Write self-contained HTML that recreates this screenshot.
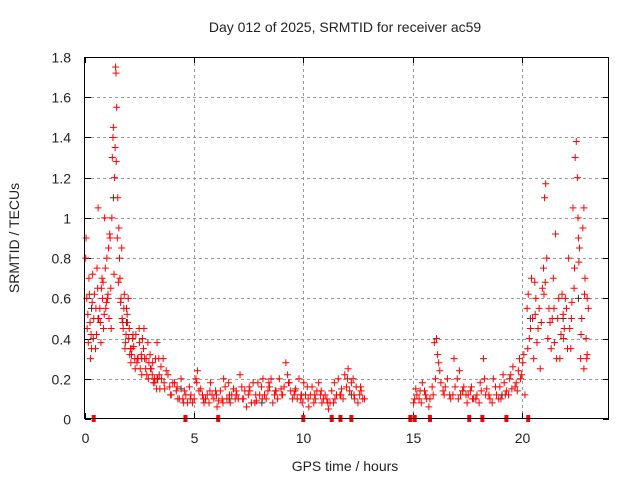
<!DOCTYPE html>
<html><head><meta charset="utf-8"><style>
body{margin:0;background:#fff;}
svg text{font-family:"Liberation Sans",sans-serif;fill:#222;}
</style></head><body>
<svg id="chart" width="640" height="480" viewBox="0 0 640 480" xmlns="http://www.w3.org/2000/svg">
<rect width="640" height="480" fill="#fff"/>
<text x="345" y="32" font-size="14" text-anchor="middle">Day 012 of 2025, SRMTID for receiver ac59</text>
<text x="345" y="471" font-size="14" text-anchor="middle">GPS time / hours</text>
<text transform="translate(19,238) rotate(-90)" font-size="14" text-anchor="middle">SRMTID / TECUs</text>
<g id="grid"></g><g id="ticks"></g><g id="marks"></g>
<rect x="84.5" y="57.5" width="524" height="361" fill="none" stroke="#000" stroke-width="1"/>
</svg>
<script>
const xTicks=[0,5,10,15,20];
const yTicks=[0,0.2,0.4,0.6,0.8,1,1.2,1.4,1.6,1.8];
const yTickLabels=["0","0.2","0.4","0.6","0.8","1","1.2","1.4","1.6","1.8"];
const redTimes=[0.05,0.1,0.15,0.2,0.25,0.3,0.35,0.4,0.5,0.55,0.6,0.7,0.75,0.8,0.85,0.9,0.95,1.0,1.05,1.1,1.15,1.2,1.25,1.3,1.35,1.4,1.42,1.45,1.5,1.55,1.6,1.65,1.7,1.75,1.8,1.85,1.9,1.95,2.0,2.05,2.1,2.15,2.2,2.3,2.4,2.5,2.6,2.7,2.8,2.9,3.0,3.1,3.2,3.3,3.4,
0.08,0.18,0.28,0.38,0.48,0.58,0.68,0.78,0.88,0.98,1.08,1.18,1.28,1.38,1.48,1.58,1.68,1.78,1.88,1.98,2.08,2.18,2.28,2.38,2.48,2.58,2.68,2.78,2.88,2.98,3.08,3.18,3.28,3.38,
0.03,0.13,0.23,0.33,0.43,0.53,0.63,0.73,0.83,0.93,1.03,1.13,1.23,1.33,1.43,1.53,1.63,1.73,1.83,1.93,2.03,2.13,2.23,2.33,2.43,2.53,2.63,2.73,2.83,2.93,3.03,3.13,3.23,3.33,3.43,3.48,
3.5,3.65,3.8,3.95,4.1,4.25,4.4,4.55,4.7,4.85,5.0,5.15,5.3,5.45,5.6,5.75,5.9,6.05,6.2,6.35,6.5,6.65,6.8,6.95,7.1,7.25,7.4,7.55,7.7,7.85,8.0,8.15,8.3,8.45,8.6,8.75,8.9,9.05,9.2,9.35,9.5,9.65,9.8,9.95,10.1,10.25,10.4,10.55,10.7,10.85,11.0,11.15,11.3,11.45,11.6,11.75,11.9,12.05,12.2,12.35,12.5,12.65,12.8,
3.58,3.88,4.18,4.48,4.78,5.08,5.38,5.68,5.98,6.28,6.58,6.88,7.18,7.48,7.78,8.08,8.38,8.68,8.98,9.28,9.58,9.88,10.18,10.48,10.78,11.08,11.38,11.68,11.98,12.28,12.58,
3.72,4.02,4.32,4.62,4.92,5.22,5.52,5.82,6.12,6.42,6.72,7.02,7.32,7.62,7.92,8.22,8.52,8.82,9.12,9.42,9.72,10.02,10.32,10.62,10.92,11.22,11.52,11.82,12.12,12.42,12.72,
3.62,3.92,4.22,4.52,4.82,5.12,5.42,5.72,6.02,6.32,6.62,6.92,7.22,7.52,7.82,8.12,8.42,8.72,9.02,9.32,9.62,9.92,10.22,10.52,10.82,11.12,11.42,11.72,12.02,12.32,12.62,
15.05,15.15,15.3,15.45,15.6,15.75,15.9,16.0,16.1,16.2,16.3,16.45,16.6,16.75,16.9,17.05,17.2,17.35,17.5,17.65,17.8,17.95,18.1,18.25,18.4,18.55,18.7,18.85,19.0,19.15,19.3,19.45,19.6,19.75,19.9,20.0,20.1,
15.1,15.35,15.65,15.95,16.15,16.5,16.85,17.15,17.45,17.75,18.05,18.35,18.65,18.95,19.25,19.55,19.85,20.15,
15.2,15.4,15.55,15.8,16.05,16.25,16.4,16.7,16.95,17.1,17.3,17.55,17.7,17.9,18.15,18.3,18.5,18.8,19.05,19.2,19.4,19.5,19.7,19.8,19.95,20.05,
20.25,20.35,20.45,20.55,20.65,20.75,20.85,20.95,21.05,21.1,21.15,21.25,21.35,21.45,21.55,21.65,21.75,21.85,21.95,22.05,22.15,22.25,22.35,22.45,22.5,22.55,22.65,22.75,22.8,22.85,22.9,22.95,23.0,23.05,
20.3,20.5,20.7,20.9,21.0,21.2,21.4,21.6,21.8,22.0,22.2,22.4,22.6,22.7,22.85,23.0,
20.4,20.6,20.8,21.02,21.3,21.5,21.7,21.9,22.1,22.3,22.42,22.58,22.72,22.88,22.98,20.28,20.62,21.08,21.48,21.92,22.28,22.62];
const redValues=[.9,.45,.38,.62,.3,.35,.72,.5,.55,.75,1.05,.48,.65,.6,.45,1.0,.55,.8,.62,.5,.9,.45,1.3,1.45,1.2,1.75,1.72,1.55,1.1,.95,.7,.6,.5,.45,.62,.38,.55,.48,.4,.32,.28,.35,.42,.25,.3,.38,.22,.45,.3,.2,.25,.28,.18,.38,.22,
.6,.7,.42,.4,.35,.65,.55,.7,.52,.58,.85,.65,1.4,1.35,.9,.8,.85,.55,.42,.6,.35,.4,.3,.28,.45,.32,.35,.25,.38,.32,.22,.2,.15,.3,
.8,.52,.48,.58,.62,.42,.5,.38,.68,.75,.6,.92,1.0,.72,1.28,.68,.58,.48,.35,.52,.45,.32,.36,.42,.3,.25,.4,.3,.22,.28,.25,.18,.3,.2,.15,.26,
.2,.15,.22,.12,.18,.1,.2,.14,.08,.12,.1,.24,.15,.08,.12,.18,.1,.06,.14,.2,.1,.08,.15,.12,.22,.1,.06,.14,.18,.09,.12,.2,.1,.16,.08,.14,.2,.12,.28,.18,.1,.15,.2,.08,.12,.06,.16,.1,.18,.08,.12,.05,.14,.1,.2,.15,.22,.25,.18,.1,.08,.14,.1,
.3,.16,.14,.1,.16,.2,.12,.08,.14,.1,.18,.1,.16,.12,.08,.16,.14,.12,.15,.22,.12,.1,.16,.08,.12,.1,.08,.12,.16,.2,.12,
.24,.18,.1,.12,.08,.14,.1,.12,.09,.16,.12,.1,.14,.08,.18,.12,.2,.1,.16,.14,.1,.18,.12,.14,.1,.08,.12,.1,.14,.16,.1,
.18,.12,.16,.08,.1,.18,.1,.14,.12,.08,.12,.14,.1,.16,.12,.1,.18,.14,.12,.18,.14,.12,.1,.12,.14,.08,.18,.12,.2,.12,.16,
.08,.15,.1,.18,.12,.06,.16,.38,.4,.28,.18,.12,.2,.1,.3,.2,.12,.16,.08,.14,.1,.12,.18,.3,.15,.1,.2,.12,.16,.22,.14,.2,.26,.18,.3,.22,.32,
.1,.14,.1,.12,.32,.16,.12,.24,.12,.1,.08,.12,.08,.1,.12,.15,.24,.12,
.12,.08,.14,.1,.2,.24,.14,.12,.16,.1,.14,.12,.16,.1,.14,.2,.12,.16,.1,.18,.12,.22,.16,.14,.2,.28,
.55,.4,.7,.3,.6,.45,.25,.65,1.1,1.17,.8,.55,.35,.7,.92,.5,.3,.62,.45,.55,.8,.35,1.05,1.3,1.38,1.2,.85,.5,.95,1.05,.7,.4,.32,.55,
.62,.5,.38,.48,.75,.4,.5,.3,.42,.6,.45,.65,.9,.3,.25,.6,
.45,.68,.55,.62,.48,.38,.6,.52,.35,.58,.75,1.0,.42,.62,.3,.35,.52,.68,.55,.4,.5,.78];
const blackTimes=[0.3,0.6,1.3,1.9,2.6,3.3,4.4,6.6,8.1,9.9,12.2,15.8,17.3,19.1,20.4,21.9,22.6];
const blackValues=[.55,.5,1.1,.48,.3,.2,.15,.1,.08,.12,.12,.1,.14,.12,.5,.5,.6];
const zeroTimes=[0.4,4.6,6.1,10.0,11.3,11.7,12.2,14.9,15.1,15.8,17.6,18.2,19.3,20.3];
const X0=85,X1=609,Y0=419,Y1=57,XMAX=24,YMAX=1.8;
const xs=t=>X0+(X1-X0)*t/XMAX, ys=v=>Y0-(Y0-Y1)*v/YMAX;
const NS="http://www.w3.org/2000/svg";
function mk(tag,attrs,parent){const e=document.createElementNS(NS,tag);for(const k in attrs)e.setAttribute(k,attrs[k]);parent.appendChild(e);return e;}
const grid=document.getElementById('grid'),ticks=document.getElementById('ticks'),marks=document.getElementById('marks');
yTicks.forEach((v,i)=>{const y=Math.round(ys(v))+0.5;
 if(i>0&&i<yTicks.length-1){const g=mk('line',{x1:X0,x2:X1,y1:y,y2:y,stroke:'#999','stroke-dasharray':'3,3'},grid);
 
 }
 mk('line',{x1:X0,x2:X0+6,y1:y,y2:y,stroke:'#000'},ticks);mk('line',{x1:X1-6,x2:X1,y1:y,y2:y,stroke:'#000'},ticks);
 const t=mk('text',{x:X0-14,y:y+5,'font-size':14,'text-anchor':'end'},ticks);t.textContent=yTickLabels[i];
 
 });
xTicks.forEach((v,i)=>{const x=Math.round(xs(v))+0.5;
 if(i>0){const g=mk('line',{x1:x,x2:x,y1:Y1,y2:Y0,stroke:'#999','stroke-dasharray':'3,3'},grid);
 
 }
 mk('line',{x1:x,x2:x,y1:Y0,y2:Y0-6,stroke:'#000'},ticks);mk('line',{x1:x,x2:x,y1:Y1,y2:Y1+6,stroke:'#000'},ticks);
 const t=mk('text',{x:x,y:Y0+24,'font-size':14,'text-anchor':'middle'},ticks);t.textContent=String(v);
 
 });
function plus(t,v,col){const x=xs(t),y=ys(v);
 const p=mk('path',{d:`M${x-3.5} ${y}h7M${x} ${y-3.5}v7`,stroke:col,'stroke-width':1,fill:'none'},marks);return p;}
blackTimes.forEach((t,i)=>{const p=plus(t,blackValues[i],'#333');
 
 });
redTimes.forEach((t,i)=>{const p=plus(t,redValues[i],'#f00');
 
 });
zeroTimes.forEach(t=>{const r=mk('rect',{x:xs(t)-2,y:Y0-4,width:4,height:7,fill:'#f00'},marks);
 
 });
</script>
</body></html>
